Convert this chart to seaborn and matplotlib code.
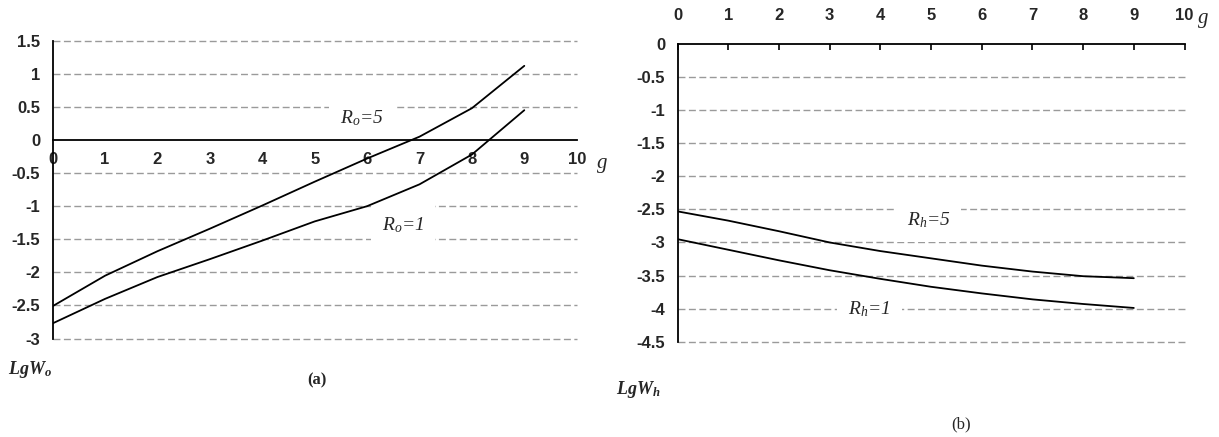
import matplotlib
matplotlib.use("Agg")
import matplotlib.pyplot as plt
import seaborn as sns
import numpy as np
import pandas as pd

# ---- data ----
g_values = [0, 1, 2, 3, 4, 5, 6, 7, 8, 9]
lgwo_r5 = [-2.51, -2.05, -1.68, -1.34, -0.99, -0.63, -0.28, 0.05, 0.48, 1.12]
lgwo_r1 = [-2.77, -2.40, -2.07, -1.80, -1.52, -1.23, -1.00, -0.67, -0.22, 0.45]
lgwh_r5 = [-2.53, -2.67, -2.83, -3.00, -3.13, -3.24, -3.35, -3.44, -3.51, -3.54]
lgwh_r1 = [-2.95, -3.11, -3.27, -3.42, -3.55, -3.67, -3.77, -3.86, -3.93, -3.99]
x_ticks = [0, 1, 2, 3, 4, 5, 6, 7, 8, 9, 10]
y_ticks_a = [1.5, 1, 0.5, 0, -0.5, -1, -1.5, -2, -2.5, -3]
y_ticks_b = [0, -0.5, -1, -1.5, -2, -2.5, -3, -3.5, -4, -4.5]

sns.set_style("white")
plt.rcParams.update({
    "font.family": ["Liberation Sans", "DejaVu Sans"],
    "mathtext.fontset": "custom",
    "mathtext.rm": "Liberation Serif",
    "mathtext.it": "Liberation Serif:italic",
    "mathtext.bf": "Liberation Serif:italic:bold",
})

df_a = pd.DataFrame({"g": g_values * 2,
                     "v": lgwo_r5 + lgwo_r1,
                     "s": ["R5"] * 10 + ["R1"] * 10})
df_b = pd.DataFrame({"g": g_values * 2,
                     "v": lgwh_r5 + lgwh_r1,
                     "s": ["R5"] * 10 + ["R1"] * 10})

fig = plt.figure(figsize=(12.19, 4.37), dpi=100)
ax1 = fig.add_axes([0.0432, 0.2252, 0.4299, 0.6817])
ax2 = fig.add_axes([0.5558, 0.2181, 0.4159, 0.6812])

grid_kw = dict(color="#9a9a9a", lw=1.0, dashes=(5, 2.5), zorder=1, clip_on=False)
tick_font = dict(fontsize=12, fontweight="bold", family="Liberation Sans")
lab_font = dict(fontsize=14, family="Liberation Serif", style="italic")
box = dict(facecolor="white", edgecolor="none", pad=8)

# ---------- panel (a) ----------
for y in y_ticks_a:
    if y != 0:
        ax1.axhline(y, **grid_kw)
sns.lineplot(data=df_a, x="g", y="v", hue="s", palette={"R5": "black", "R1": "black"},
             lw=1.3, legend=False, ax=ax1, zorder=3, sort=False)
ax1.set_xlim(0, 10)
ax1.set_ylim(-3, 1.5)
for s in ["top", "right"]:
    ax1.spines[s].set_visible(False)
ax1.spines["bottom"].set_position(("data", 0))
ax1.spines["bottom"].set_linewidth(1.3)
ax1.spines["left"].set_linewidth(1.3)
ax1.spines["bottom"].set_color("black")
ax1.spines["left"].set_color("black")
ax1.set_xticks(x_ticks)
ax1.set_xticklabels([str(t) for t in x_ticks], **tick_font)
ax1.set_yticks(y_ticks_a)
ax1.set_yticklabels([("%g" % t) for t in y_ticks_a], **tick_font)
ax1.tick_params(axis="x", direction="out", length=4, width=1.2, pad=5, color="black")
ax1.tick_params(axis="y", direction="out", length=3, width=1.2, pad=6, color="black")
ax1.set_xlabel("")
ax1.set_ylabel("")
ax1.grid(False)
ax1.text(5.48, 0.33, r"$R_o$=5", va="center", ha="left", zorder=2, bbox=box, **lab_font)
ax1.text(6.28, -1.28, r"$R_o$=1", va="center", ha="left", zorder=2, bbox=box, **lab_font)

# ---------- panel (b) ----------
for y in y_ticks_b:
    if y != 0:
        ax2.axhline(y, **grid_kw)
sns.lineplot(data=df_b, x="g", y="v", hue="s", palette={"R5": "black", "R1": "black"},
             lw=1.3, legend=False, ax=ax2, zorder=3, sort=False)
ax2.set_xlim(0, 10)
ax2.set_ylim(-4.5, 0)
for s in ["bottom", "right"]:
    ax2.spines[s].set_visible(False)
ax2.spines["top"].set_linewidth(1.3)
ax2.spines["left"].set_linewidth(1.3)
ax2.spines["top"].set_color("black")
ax2.spines["left"].set_color("black")
ax2.xaxis.set_ticks_position("top")
ax2.xaxis.set_label_position("top")
ax2.set_xticks(x_ticks)
ax2.set_xticklabels([str(t) for t in x_ticks], **tick_font)
ax2.set_yticks(y_ticks_b)
ax2.set_yticklabels([("%g" % t) for t in y_ticks_b], **tick_font)
ax2.tick_params(axis="x", direction="in", length=4, width=1.2, pad=15, color="black")
ax2.tick_params(axis="y", direction="out", length=3, width=1.2, pad=6, color="black")
ax2.set_xlabel("")
ax2.set_ylabel("")
ax2.grid(False)
ax2.text(4.52, -2.67, r"$R_h$=5", va="center", ha="left", zorder=2, bbox=box, **lab_font)
ax2.text(3.37, -4.01, r"$R_h$=1", va="center", ha="left", zorder=2, bbox=box, **lab_font)

# ---------- figure texts ----------
fig.text(0.4897, 0.627, "g", ha="left", va="center", fontsize=15,
         family="Liberation Serif", style="italic")
fig.text(0.9828, 0.958, "g", ha="left", va="center", fontsize=15,
         family="Liberation Serif", style="italic")
fig.text(0.0066, 0.1556, r"$\mathbf{LgW_o}$", ha="left", va="center", fontsize=13)
fig.text(0.5053, 0.1076, r"$\mathbf{LgW_h}$", ha="left", va="center", fontsize=13)
fig.text(0.260, 0.1304, "(a)", ha="center", va="center", fontsize=12,
         family="Liberation Serif", fontweight="bold")
fig.text(0.7888, 0.0297, "(b)", ha="center", va="center", fontsize=12,
         family="Liberation Serif")

fig.savefig("out.png", dpi=100, facecolor="white")
